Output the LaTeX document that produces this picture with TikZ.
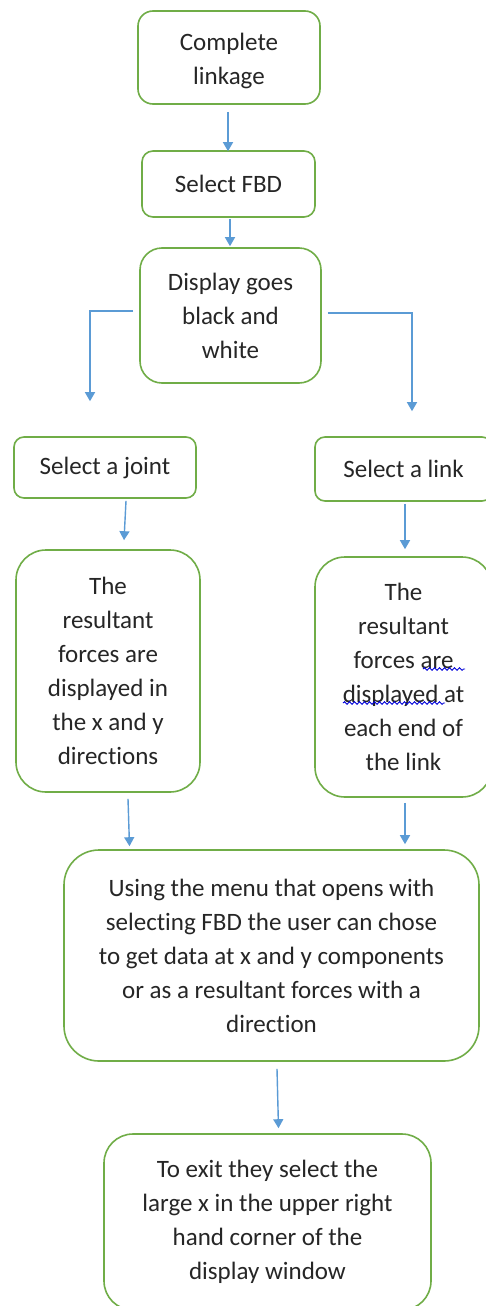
\documentclass[tikz,border=0pt]{standalone}
\usepackage{fontspec}
\setmainfont{Carlito}[Ligatures=NoCommon]
\usetikzlibrary{arrows.meta,calc,decorations.pathmorphing}
\definecolor{boxgreen}{HTML}{70AD47}
\definecolor{arrblue}{HTML}{5B9BD5}
\definecolor{txt}{HTML}{262626}
\tikzset{
  box/.style={draw=boxgreen, line width=1.6pt, fill=white, rectangle, inner sep=0pt,
    align=center, text=txt, font=\fontsize{25}{34}\selectfont},
  arr/.style={draw=arrblue, line width=1.4pt, -{Triangle[width=10pt,length=9pt]}},
  squig/.style={draw=blue!85!black, line width=0.9pt,
    decorate, decoration={snake, amplitude=1.3pt, segment length=5pt}}
}
\begin{document}
\begin{tikzpicture}[x=1pt,y=-1pt]
\clip (0,0) rectangle (486,1306);
\fill[white] (0,0) rectangle (486,1306);

\node[box, rounded corners=15pt, minimum width=182pt, minimum height=93pt] (b1) at (229,57.5) {\rule{0pt}{24pt}Complete\\linkage};
\node[box, rounded corners=11pt, minimum width=173pt, minimum height=66pt] (b2) at (228.5,184) {Select FBD};
\node[box, rounded corners=22pt, minimum width=181pt, minimum height=135pt] (b3) at (230.5,315.5) {Display goes\\black and\\white};
\node[box, rounded corners=10pt, minimum width=182pt, minimum height=61pt] (j) at (105,467.5) {Select a joint};
\node[box, rounded corners=10pt, minimum width=177pt, minimum height=64pt] (l) at (403.5,469) {Select a link};
\node[box, rounded corners=30pt, minimum width=184pt, minimum height=242pt] (rj) at (108,671) {The\\resultant\\forces are\\displayed in\\the x and y\\directions};
\node[box, rounded corners=30pt, minimum width=177pt, minimum height=240pt] (rl) at (403.5,677) {The\\resultant\\forces are\\displayed at\\each end of\\the link};
\node[box, rounded corners=35pt, minimum width=415pt, minimum height=211pt] (m) at (271.5,955.5) {Using the menu that opens with\\selecting FBD the user can chose\\to get data at x and y components\\or as a resultant forces with a\\direction};
\node[box, rounded corners=29pt, minimum width=327pt, minimum height=176pt] (e) at (267.5,1222) {To exit they select the\\large x in the upper right\\hand corner of the\\display window};

% spell-check squiggles
\draw[squig] (423,669) -- (465,669);
\draw[squig] (343,703) -- (445,703);

% connectors
\coordinate (jt) at ($(j.north)+(-15,-35)$);
\coordinate (lt) at ($(l.north)+(8.5,-25)$);
\draw[arr] ($(b1.south)+(-1,7)$) -- ($(b2.north)+(-0.5,1)$);
\draw[arr] ($(b2.south)+(1.5,1)$) -- ($(b3.north)+(-0.5,-1)$);
\draw[arr] ($(b3.west)+(-6,-4.5)$) -| (jt);
\draw[arr] ($(b3.east)+(6,-2.5)$) -| (lt);
\draw[arr] ($(j.south)+(21,2)$) -- ($(rj.north)+(16,-9)$);
\draw[arr] ($(l.south)+(1.5,2)$) -- ($(rl.north)+(1.5,-7)$);
\draw[arr] ($(rj.south)+(20,6)$) -- ($(m.north)+(-142,-3)$);
\draw[arr] ($(rl.south)+(1.5,5)$) -- ($(m.north)+(133.5,-5)$);
\draw[arr] ($(m.south)+(5.5,7)$) -- ($(e.north)+(11,-5)$);
\end{tikzpicture}
\end{document}
